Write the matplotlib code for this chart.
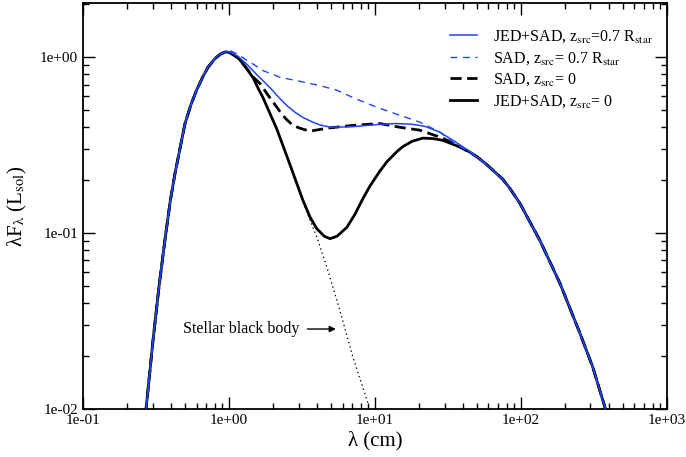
import numpy as np
import matplotlib
matplotlib.use("Agg")
import matplotlib.pyplot as plt
from matplotlib.ticker import LogLocator, FuncFormatter, NullFormatter

plt.rcParams["font.family"] = ["Liberation Serif", "DejaVu Serif"]
plt.rcParams["mathtext.fontset"] = "stix"
plt.rcParams["lines.scale_dashes"] = False

# shared Wien side, identical for every curve (lambda in cm, lambda*F in L_sol)
lam_rise = [0.262, 0.270, 0.302, 0.332, 0.364, 0.395, 0.427, 0.50, 0.55, 0.60,
            0.66, 0.72, 0.80, 0.87, 0.95]
f_rise = [0.0075, 0.0099, 0.0247, 0.050, 0.091, 0.150, 0.219, 0.42, 0.54, 0.65,
          0.77, 0.88, 0.98, 1.04, 1.075]

# shared long-wavelength tail
lam_tail = [58.5, 75.0, 84.0, 98.4, 135, 185, 254, 311, 376, 392]
f_tail = [0.245, 0.203, 0.180, 0.148, 0.091, 0.052, 0.027, 0.0173, 0.0103, 0.0085]

# stellar black body (dotted) after the peak
lam_bb = [1.02, 1.16, 1.30, 1.47, 1.58, 1.71, 2.13, 2.62, 3.21, 3.6, 4.0, 4.69,
          5.75, 7.07, 8.96, 9.5]
f_bb = [1.06, 0.99, 0.88, 0.76, 0.67, 0.59, 0.39, 0.245, 0.152, 0.118, 0.095,
        0.064, 0.0365, 0.0197, 0.0108, 0.0088]

# JED+SAD, z_src = 0 (black solid)
lam_js0 = [1.02, 1.16, 1.30, 1.47, 1.58, 1.71, 2.13, 2.62, 3.21, 3.6, 4.0, 4.5,
           4.92, 5.5, 6.43, 7.3, 8.27, 9.24, 10.8, 12.1, 14.1, 15.5, 18.0, 21.3,
           25.0, 29.2, 36.0, 42.7, 50.0]
f_js0 = [1.06, 0.99, 0.88, 0.76, 0.67, 0.59, 0.39, 0.245, 0.154, 0.123, 0.106,
         0.096, 0.093, 0.096, 0.108, 0.128, 0.157, 0.185, 0.225, 0.255, 0.29,
         0.31, 0.333, 0.347, 0.345, 0.337, 0.315, 0.296, 0.272]

# SAD, z_src = 0 (black dashed)
lam_s0 = [1.02, 1.16, 1.30, 1.47, 1.63, 1.85, 2.13, 2.3, 2.5, 2.75, 3.06, 3.59,
          4.69, 7.07, 10.8, 14.8, 20.3, 29.2, 38.2, 50.0]
f_s0 = [1.06, 0.99, 0.88, 0.77, 0.71, 0.61, 0.52, 0.475, 0.44, 0.41, 0.395,
        0.38, 0.395, 0.41, 0.42, 0.40, 0.385, 0.347, 0.31, 0.272]

# JED+SAD, z_src = 0.7 R_star (blue solid)
lam_js7 = [1.02, 1.16, 1.33, 1.50, 1.70, 1.95, 2.2, 2.5, 2.85, 3.21, 3.7, 4.2,
           5.0, 7.0, 10.5, 14.0, 18.0, 22.0, 27.9, 36.5, 45.0]
f_js7 = [1.07, 1.01, 0.91, 0.82, 0.74, 0.66, 0.59, 0.53, 0.485, 0.455, 0.43,
         0.412, 0.40, 0.403, 0.415, 0.42, 0.416, 0.405, 0.375, 0.326, 0.29]

# SAD, z_src = 0.7 R_star (blue dashed)
lam_s7 = [1.02, 1.15, 1.33, 1.51, 1.71, 2.07, 2.23, 3.06, 4.2, 5.49, 7.07, 10.3,
          14.8, 20.3, 27.9, 34.2, 45.0]
f_s7 = [1.09, 1.04, 0.96, 0.90, 0.84, 0.79, 0.77, 0.73, 0.69, 0.65, 0.59, 0.52,
        0.468, 0.428, 0.375, 0.329, 0.288]

BLUE = "#1f45f5"


def join(x_mid, y_mid, with_tail=True):
    x = list(lam_rise) + list(x_mid)
    y = list(f_rise) + list(y_mid)
    if with_tail:
        x += lam_tail
        y += f_tail
    return np.array(x), np.array(y)


fig = plt.figure(figsize=(6.86, 4.57), dpi=100)
ax = fig.add_axes([0.121, 0.105, 0.851, 0.888])

x, y = join(lam_bb, f_bb, with_tail=False)
ax.plot(x, y, color="black", lw=0.9, dashes=(1, 2.2), zorder=2)
x, y = join(lam_js0, f_js0)
ax.plot(x, y, color="black", lw=2.0, zorder=3, label=r"JED+SAD, z$_{\rm src}$= 0")
x, y = join(lam_s0, f_s0)
ax.plot(x, y, color="black", lw=2.0, dashes=(8, 4), zorder=3,
        label=r"SAD, z$_{\rm src}$= 0")
x, y = join(lam_s7, f_s7)
ax.plot(x, y, color=BLUE, lw=1.0, dashes=(5, 4), zorder=4,
        label=r"SAD, z$_{\rm src}$= 0.7 R$_{\rm star}$")
x, y = join(lam_js7, f_js7)
ax.plot(x, y, color=BLUE, lw=1.1, zorder=5,
        label=r"JED+SAD, z$_{\rm src}$=0.7 R$_{\rm star}$")

ax.set_xscale("log")
ax.set_yscale("log")
ax.set_xlim(0.1, 1000)
ax.set_ylim(0.01, 2.03)

fmt = FuncFormatter(lambda v, p: f"{v:.0e}")
ax.xaxis.set_major_locator(LogLocator(base=10, numticks=10))
ax.yaxis.set_major_locator(LogLocator(base=10, numticks=10))
ax.xaxis.set_minor_locator(LogLocator(base=10, subs=np.arange(2, 10), numticks=20))
ax.yaxis.set_minor_locator(LogLocator(base=10, subs=np.arange(2, 10), numticks=20))
ax.xaxis.set_major_formatter(fmt)
ax.yaxis.set_major_formatter(fmt)
ax.xaxis.set_minor_formatter(NullFormatter())
ax.yaxis.set_minor_formatter(NullFormatter())
ax.tick_params(which="both", direction="in", top=True, right=True, labelsize=11,
               width=1.0)
ax.tick_params(which="major", length=8.5)
ax.tick_params(which="minor", length=4.5)
for s in ax.spines.values():
    s.set_linewidth(1.3)

ax.set_xlabel("λ (cm)", fontsize=15, labelpad=3)
ax.set_ylabel(r"λF$_{\mathrm{λ}}$ (L$_{\rm sol}$)", fontsize=15, labelpad=8)

ax.annotate("Stellar black body", xy=(5.4, 0.0285), xytext=(3.02, 0.0285),
            ha="right", va="center", fontsize=11.5,
            arrowprops=dict(arrowstyle="-|>", color="black", lw=1.0,
                            mutation_scale=9, shrinkA=4, shrinkB=0))

h, l = ax.get_legend_handles_labels()
order = [3, 2, 1, 0]
ax.legend([h[i] for i in order], [l[i] for i in order], loc="upper right",
          frameon=False, fontsize=11.5, handlelength=1.7, handletextpad=1.0,
          labelspacing=0.3, bbox_to_anchor=(0.995, 0.965), borderaxespad=0.3)

fig.savefig("out.png", dpi=100)
